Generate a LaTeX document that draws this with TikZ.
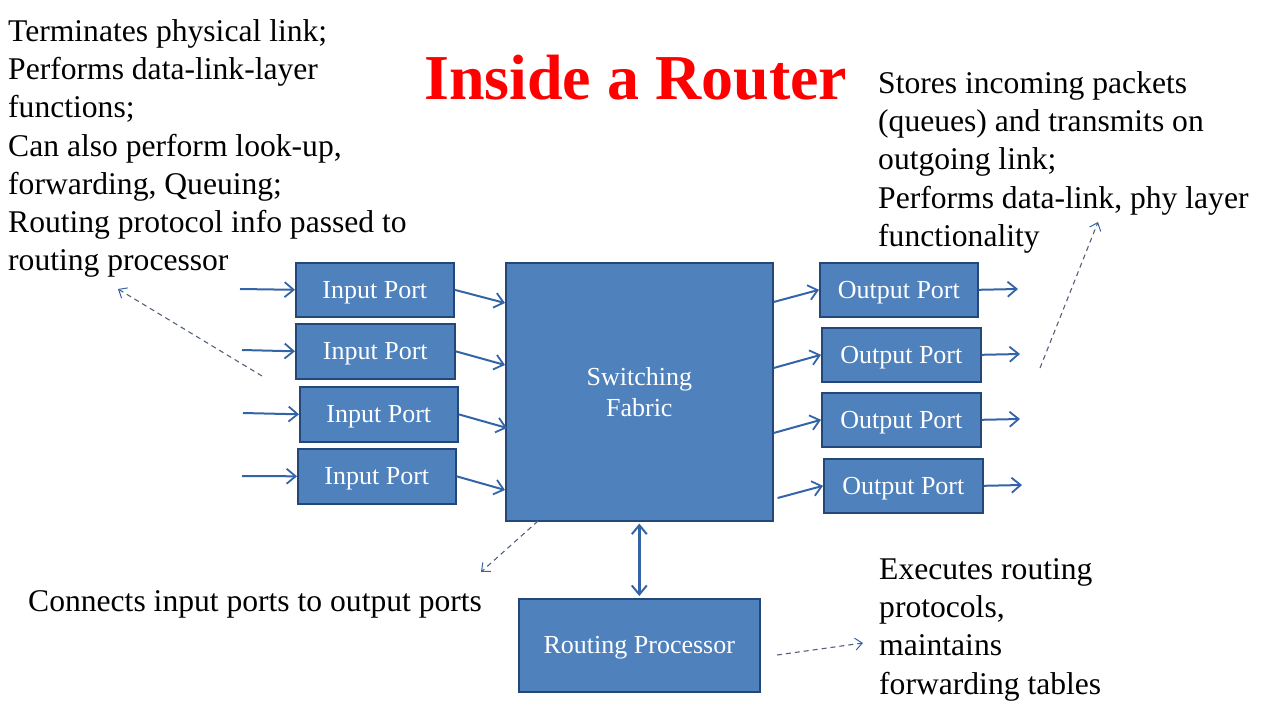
\documentclass[tikz,border=0pt]{standalone}
\usepackage{fontspec}
\setmainfont{Liberation Serif}
\usetikzlibrary{arrows.meta,calc}
\definecolor{boxfill}{HTML}{4F81BD}
\definecolor{boxline}{HTML}{24477A}
\definecolor{flowblue}{HTML}{3464A8}
\definecolor{notegray}{HTML}{55607A}
\definecolor{titlered}{HTML}{FF0000}

\begin{document}
\begin{tikzpicture}[x=1pt,y=-1pt,
  portbox/.style={draw=boxline, line width=1.6pt, fill=boxfill, text=white,
    font=\fontsize{26}{31}\selectfont, inner sep=0pt, anchor=north west, align=center},
  flow/.style={draw=flowblue, line width=2pt,
    -{Straight Barb[length=9pt,width=15pt,line width=1.8pt]}},
  bothflow/.style={draw=flowblue, line width=2.4pt,
    {Straight Barb[length=9pt,width=15pt,line width=2pt]}-{Straight Barb[length=9pt,width=15pt,line width=2pt]}},
  note/.style={draw=notegray, line width=1.1pt, dash pattern=on 5pt off 4pt,
    -{Straight Barb[length=7pt,width=12pt,line width=1pt,color=flowblue]}},
  caption/.style={font=\fontsize{31.6}{38.3}\selectfont, inner sep=0pt, anchor=north west, align=left}
]
\useasboundingbox (0,0) rectangle (1266,726);

% title
\node[font=\bfseries\fontsize{64}{70}\selectfont, text=titlered, anchor=base west, inner sep=0pt]
  (title) at (424,99) {Inside a Router};

% explanatory texts
\node[caption] (txtin) at (8,19) {Terminates physical link;\\Performs data-link-layer\\functions;\\Can also perform look-up,\\forwarding, Queuing;\\Routing protocol info passed to\\routing processor};
\node[caption] (txtout) at (878,71) {Stores incoming packets\\(queues) and transmits on\\outgoing link;\\Performs data-link, phy layer\\functionality};
\node[caption, anchor=base west] (txtfab) at (28,611) {Connects input ports to output ports};
\node[caption] (txtrp) at (879,558) {Executes routing\\protocols,\\maintains\\forwarding tables};

% switching fabric and routing processor
\node[portbox, minimum width=267pt, minimum height=258pt] (fab) at (505,262) {Switching\\Fabric};
\node[portbox, minimum width=241pt, minimum height=93pt, text depth=0pt] (rp) at (518,598) {Routing Processor};

% input ports
\begin{scope}[every node/.append style={text depth=0pt}]
\node[portbox, minimum width=158pt, minimum height=54pt] (in1) at (295,262) {Input Port};
\node[portbox, minimum width=159pt, minimum height=55pt] (in2) at (295,323) {Input Port};
\node[portbox, minimum width=158pt, minimum height=55pt] (in3) at (299,386) {Input Port};
\node[portbox, minimum width=158pt, minimum height=55pt] (in4) at (297,448) {Input Port};

% output ports
\node[portbox, minimum width=158pt, minimum height=54pt] (out1) at (819,262) {Output Port};
\node[portbox, minimum width=159pt, minimum height=54pt] (out2) at (821,327) {Output Port};
\node[portbox, minimum width=159pt, minimum height=54pt] (out3) at (821,392) {Output Port};
\node[portbox, minimum width=159pt, minimum height=54pt] (out4) at (823,458) {Output Port};
\end{scope}

% incoming links
\coordinate (src1) at (240,289);
\coordinate (src2) at (242,350);
\coordinate (src3) at (243,413);
\coordinate (src4) at (242,476);
\draw[flow] (src1) -- (in1.west);
\draw[flow] (src2) -- (in2.west);
\draw[flow] (src3) -- (in3.west);
\draw[flow] (src4) -- (in4.west);

% input ports into the fabric
\draw[flow] (in1.east) -- ($(fab.north west)+(0,41)$);
\draw[flow] (in2.east) -- ($(fab.north west)+(0,103)$);
\draw[flow] (in3.east) -- ($(fab.north west)+(2,166)$);
\draw[flow] (in4.east) -- ($(fab.north west)+(0,228)$);

% fabric to output ports
\draw[flow] ($(fab.north east)+(0,40)$) -- (out1.west);
\draw[flow] ($(fab.north east)+(0,106)$) -- (out2.west);
\draw[flow] ($(fab.north east)+(0,171)$) -- (out3.west);
\draw[flow] ($(fab.north east)+(4,236)$) -- (out4.west);

% outgoing links
\coordinate (dst1) at (1018,289);
\coordinate (dst2) at (1020,354);
\coordinate (dst3) at (1020,419);
\coordinate (dst4) at (1022,485);
\draw[flow] (out1.east) -- (dst1);
\draw[flow] (out2.east) -- (dst2);
\draw[flow] (out3.east) -- (dst3);
\draw[flow] (out4.east) -- (dst4);

% fabric <-> routing processor
\draw[bothflow] ($(fab.south)+(0,2)$) -- ($(rp.north)+(0,-2)$);

% pointers from the explanations
\coordinate (pin) at (262,376);
\coordinate (pinend) at (118,289);
\coordinate (pfab) at (538,521);
\coordinate (pfabend) at (481,572);
\coordinate (prp) at (777,655);
\coordinate (prpend) at (863,643);
\coordinate (pout) at (1040,368);
\coordinate (poutend) at (1098,222);
\draw[note] (pin) -- (pinend);
\draw[note] (pfab) -- (pfabend);
\draw[note] (prp) -- (prpend);
\draw[note] (pout) -- (poutend);
\end{tikzpicture}
\end{document}
